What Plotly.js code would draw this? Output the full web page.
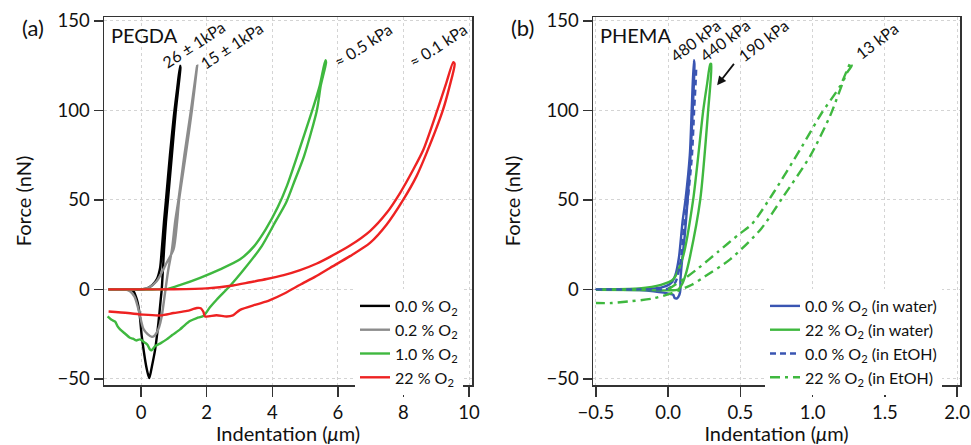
<!DOCTYPE html>
<html>
<head>
<meta charset="utf-8">
<script src="https://cdn.plot.ly/plotly-3.0.1.min.js"></script>
<style>html,body{margin:0;padding:0;background:#fff}#chart{width:971px;height:445px}</style>
</head>
<body>
<div id="chart"></div>
<script>
// ---------- Panel (a) PEGDA ----------
const black_x = [-1.0, -0.5, 0.0, 0.17, 0.35, 0.48, 0.58, 0.63, 0.70, 0.76, 0.88, 1.00, 1.10, 1.19,
                 1.20, 1.12, 1.06, 0.94, 0.82, 0.76, 0.70, 0.66, 0.63, 0.60, 0.53, 0.43, 0.33, 0.25, 0.18, 0.12, 0.02, -0.05, -0.13, -0.23, -0.35, -1.0];
const black_y = [0, 0, 0, 0.4, 2.5, 5.6, 12, 22, 38, 50, 75, 97, 112, 125,
                 124, 110, 100, 75, 50, 38, 22, 9, 0, -5.6, -18.6, -33.5, -43, -49.5, -45, -39, -26, -13, -5.6, -1, 0, 0];

const grey_x = [-1.0, -0.5, 0.0, 0.22, 0.48, 0.78, 0.99, 1.10, 1.16, 1.36, 1.55, 1.71,
                1.70, 1.52, 1.32, 1.14, 1.04, 0.94, 0.83, 0.73, 0.63, 0.55, 0.48, 0.40, 0.33, 0.20, 0.07, -0.08, -0.20, -0.34, -0.5, -1.0];
const grey_y = [0, 0, 0, 0.9, 4.7, 14.9, 22.3, 38, 50, 75, 100, 125,
                124, 100, 75, 50, 38, 22, 11, -2, -15, -21, -24, -26, -26.5, -25, -22, -11, -4, -1, 0, 0];

const green_a_x = [-1.0, 0.0, 0.5, 0.79, 1.2, 1.8, 2.41, 3.02, 3.45, 3.8, 4.17, 4.45, 4.76, 5.22, 5.45, 5.62,
                   5.64, 5.48, 5.36, 4.97, 4.66, 4.42, 4.08, 3.68, 3.14, 2.71, 2.31, 2.10, 1.90, 1.70, 1.49, 1.30, 1.19, 0.95, 0.78, 0.60, 0.43, 0.32, 0.27, 0.20, 0.12, -0.03, -0.15, -0.25, -0.34, -0.50, -0.64, -0.72, -0.79, -0.90, -1.02];
const green_a_y = [0, 0, 0, 0.2, 2.5, 6.5, 11.2, 16.8, 24.2, 33.5, 46, 58, 74.5, 100, 114, 128,
                   127, 114, 100, 74.5, 59.6, 48.4, 37.3, 24.2, 11.2, 1.9, -5.6, -10, -14.9, -16, -17.7, -20.5, -22.3, -25.5, -27.9, -30, -31.7, -34, -33.5, -31, -29.8, -27.9, -28.5, -27.5, -27, -24.5, -22.3, -20.5, -18, -17, -15.1];

const red_a_x = [-1.0, 0.0, 1.0, 2.0, 2.8, 3.32, 3.83, 4.35, 4.85, 5.36, 5.76, 6.37, 6.98, 7.49, 7.9, 8.3, 8.61, 9.03, 9.3, 9.52,
                 9.56, 9.4, 9.2, 8.71, 8.4, 8.0, 7.49, 6.98, 6.37, 5.76, 5.3, 4.85, 4.4, 3.93, 3.83, 3.5, 3.02, 2.8, 2.61, 2.3, 1.95, 1.9, 1.82, 1.7, 1.4, 0.99, 0.6, 0.07, -0.4, -0.99];
const red_a_y = [0, 0, 0.1, 0.6, 2.2, 4, 5.8, 8, 10.8, 14.5, 18.2, 24.5, 32.6, 42.8, 54, 67, 78.2, 100, 115, 127,
                 126, 113, 100, 76.4, 63.3, 50.3, 36.3, 26, 18.6, 12, 7, 2.6, -2, -6, -6.7, -8.5, -11.4, -14.5, -15.1, -14.4, -15.1, -12.5, -10.5, -10.4, -12, -13.2, -14.5, -14.1, -13.2, -12.3];

// ---------- Panel (b) PHEMA ----------
const blue_w_x = [-0.5, -0.2, -0.05, 0.02, 0.05, 0.075, 0.10, 0.12, 0.15, 0.163, 0.178,
                  0.182, 0.17, 0.155, 0.135, 0.115, 0.095, 0.085, 0.085, 0.078, 0.062, 0.045, 0.035, 0.01, -0.03, -0.1, -0.2, -0.5];
const blue_w_y = [0, 0.3, 1, 3.5, 8, 18, 38, 50, 75, 100, 128,
                  126, 100, 75, 50, 30, 15, 5, 0, -3, -5, -4.8, -3, -2.5, -1.8, -1, -0.4, 0];

const green_w_x = [-0.5, -0.2, -0.05, 0.035, 0.104, 0.173, 0.243, 0.27, 0.292,
                   0.298, 0.277, 0.222, 0.152, 0.12, 0.097, 0.07, 0.0, -0.2, -0.5];
const green_w_y = [0, 0.5, 2.5, 5.6, 18.6, 50, 100, 115, 126,
                   126, 100, 50, 18.6, 8, 3, 0, -0.5, -0.3, -0.2];

const blue_e_x = [-0.5, -0.2, 0.0, 0.05, 0.085, 0.11, 0.135, 0.165, 0.18, 0.19, 0.195];
const blue_e_y = [0, 0, 0.5, 4, 15, 35, 50, 75, 100, 115, 125];

const green_e_x = [0.0, 0.048, 0.118, 0.21, 0.348, 0.487, 0.58, 0.729, 0.914, 1.064, 1.19, 1.265,
                   1.27, 1.237, 1.12, 0.983, 0.798, 0.64, 0.429, 0.256, 0.164, 0.025, -0.113, -0.275, -0.39, -0.5];
const green_e_y = [0, 2.6, 6.3, 11.9, 21.2, 30.6, 36.5, 54, 78.2, 98.7, 113.6, 127,
                   125, 121, 96.8, 74.5, 52, 33.5, 16.8, 7.3, 2.6, -2.1, -5.2, -6.7, -7.6, -7.6];

// labels
const legendA = ['0.0 % O<sub>2</sub>', '0.2 % O<sub>2</sub>', '1.0 % O<sub>2</sub>', '22 % O<sub>2</sub>'];
const legendB = ['0.0 % O<sub>2</sub> (in water)', '22 % O<sub>2</sub> (in water)', '0.0 % O<sub>2</sub> (in EtOH)', '22 % O<sub>2</sub> (in EtOH)'];
const modA = ['26 ± 1kPa', '15 ± 1kPa', '≈ 0.5 kPa', '≈ 0.1 kPa'];
const modB = ['480 kPa', '440 kPa', '190 kPa', '13 kPa'];
const xTicksA = [0, 2, 4, 6, 8, 10];
const xTicksB = [-0.5, 0.0, 0.5, 1.0, 1.5, 2.0];
const yTicks = [-50, 0, 50, 100, 150];

const FONT = 'Lato, "Open Sans", sans-serif';
const C_BLACK = '#000000', C_GREY = '#8c8c8c', C_GREEN = '#3fb83f', C_RED = '#ee2222', C_BLUE = '#3a55b2';

const traces = [
  {x: black_x, y: black_y, name: legendA[0], line: {color: C_BLACK, width: 2.4}},
  {x: grey_x, y: grey_y, name: legendA[1], line: {color: C_GREY, width: 2.4}},
  {x: green_a_x, y: green_a_y, name: legendA[2], line: {color: C_GREEN, width: 2.4}},
  {x: red_a_x, y: red_a_y, name: legendA[3], line: {color: C_RED, width: 2.4}},
  {x: blue_w_x, y: blue_w_y, name: legendB[0], xaxis: 'x2', yaxis: 'y2', legend: 'legend2', line: {color: C_BLUE, width: 2.4}},
  {x: green_w_x, y: green_w_y, name: legendB[1], xaxis: 'x2', yaxis: 'y2', legend: 'legend2', line: {color: C_GREEN, width: 2.4}},
  {x: blue_e_x, y: blue_e_y, name: legendB[2], xaxis: 'x2', yaxis: 'y2', legend: 'legend2', line: {color: C_BLUE, width: 2.4, dash: '6px,4px'}},
  {x: green_e_x, y: green_e_y, name: legendB[3], xaxis: 'x2', yaxis: 'y2', legend: 'legend2', line: {color: C_GREEN, width: 2.4, dash: '10px,5px,3px,5px'}}
].map(t => Object.assign({type: 'scatter', mode: 'lines', hoverinfo: 'skip'}, t));
traces.forEach(t => { t.line.shape = 'spline'; t.line.smoothing = 0.7; });

const L = 104, R = 11, T = 17, B = 60, W = 971, H = 445;
const PW = W - L - R, PH = H - T - B;
const px = v => (v - L) / PW;
const py = v => (H - B - v) / PH;

const axisCommon = {
  showline: true, mirror: true, linecolor: '#333', linewidth: 1.5,
  ticks: 'outside', tickcolor: '#333', tickwidth: 1.5,
  showgrid: true, gridcolor: '#d4d4d4', griddash: 'dot', gridwidth: 1,
  zeroline: false, tickfont: {family: FONT, size: 18.5, color: '#111'}
};
const xTitle = {text: 'Indentation (<i>μ</i>m)', font: {family: FONT, size: 20, color: '#111'}, standoff: 6};
const yTitle = {text: 'Force (nN)', font: {family: FONT, size: 20, color: '#111'}, standoff: 20};

const annFont = {family: FONT, size: 16, color: '#111'};
const annotations = [
  {text: '(a)', x: px(33), y: py(27), font: {family: FONT, size: 22, color: '#111'}},
  {text: '(b)', x: px(522), y: py(27), font: {family: FONT, size: 22, color: '#111'}},
  {text: 'PEGDA', x: px(109), y: py(35), xanchor: 'left', font: {family: FONT, size: 20, color: '#111'}},
  {text: 'PHEMA', x: px(598), y: py(35), xanchor: 'left', font: {family: FONT, size: 20, color: '#111'}},
  {text: modA[0], x: px(193), y: py(44), textangle: -33, font: annFont},
  {text: modA[1], x: px(231), y: py(45), textangle: -33, font: annFont},
  {text: modA[2], x: px(362), y: py(45), textangle: -33, font: annFont},
  {text: modA[3], x: px(437), y: py(45), textangle: -33, font: annFont},
  {text: modB[0], x: px(695), y: py(41), textangle: -37, font: annFont},
  {text: modB[1], x: px(724), y: py(40), textangle: -37, font: annFont},
  {text: modB[2], x: px(763), y: py(41), textangle: -37, font: annFont},
  {text: modB[3], x: px(877), y: py(41), textangle: -37, font: annFont}
].map(a => Object.assign({xref: 'paper', yref: 'paper', showarrow: false, xanchor: 'center', yanchor: 'middle'}, a));
annotations.push({xref: 'x2', yref: 'y2', x: 0.339, y: 114, ax: 18, ay: -23, text: '', showarrow: true,
  arrowhead: 2, arrowsize: 1, arrowwidth: 1.8, arrowcolor: '#111'});

const legendCommon = {bgcolor: 'rgba(255,255,255,1)', borderwidth: 0, xanchor: 'left', yanchor: 'top',
  font: {family: FONT, size: 16, color: '#111'}, tracegroupgap: 0};

const layout = {
  width: W, height: H, margin: {l: L, r: R, t: T, b: B}, paper_bgcolor: '#fff', plot_bgcolor: '#fff',
  showlegend: true,
  xaxis: Object.assign({}, axisCommon, {domain: [0, (472 - L) / PW], range: [-1.13, 10.09], tickvals: xTicksA, ticklen: 10, title: xTitle, anchor: 'y'}),
  yaxis: Object.assign({}, axisCommon, {range: [-53.4, 152.2], tickvals: yTicks, ticklen: 9, title: yTitle, anchor: 'x'}),
  xaxis2: Object.assign({}, axisCommon, {domain: [(593 - L) / PW, 1], range: [-0.52, 2.02], tickvals: xTicksB, tickformat: '.1f', ticklen: 10, title: xTitle, anchor: 'y2'}),
  yaxis2: Object.assign({}, axisCommon, {range: [-53.4, 152.2], tickvals: yTicks, ticklen: 9, title: yTitle, anchor: 'x2'}),
  legend: Object.assign({}, legendCommon, {x: px(355), y: py(289)}),
  legend2: Object.assign({}, legendCommon, {x: px(765), y: py(289)}),
  annotations: annotations
};

Plotly.newPlot('chart', traces, layout, {staticPlot: true, displayModeBar: false});
</script>
</body>
</html>
